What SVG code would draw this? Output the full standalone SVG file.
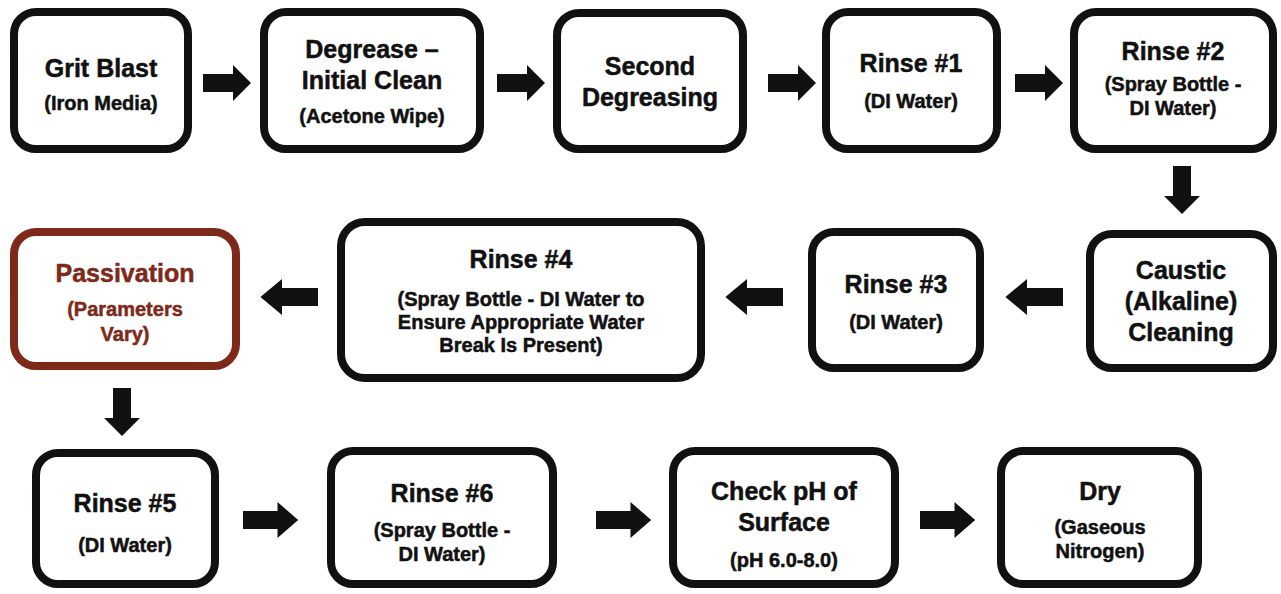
<svg xmlns="http://www.w3.org/2000/svg" width="1281" height="594" viewBox="0 0 1281 594">
<style>
.box{fill:#fff;stroke:#111;stroke-width:8}
.pbox{fill:#fff;stroke:#7e2a1b;stroke-width:8}
.t{font-family:"Liberation Sans",Arial,sans-serif;font-weight:bold;font-size:25px;fill:#111;stroke:#111;stroke-width:0.5;text-anchor:middle}
.s{font-family:"Liberation Sans",Arial,sans-serif;font-weight:bold;font-size:20px;fill:#111;stroke:#111;stroke-width:0.5;text-anchor:middle}
.brown{fill:#7e2a1b;stroke:#7e2a1b}
.arr{fill:#111}
</style>
<defs>
<path id="ar" d="M0,-9 L30,-9 L30,-18 L48,0 L30,18 L30,9 L0,9 Z"/>
</defs>
<rect width="1281" height="594" fill="#fff"/>
<g id="connectors" class="arr">
<use href="#ar" transform="translate(203,83)"/>
<use href="#ar" transform="translate(497,83)"/>
<use href="#ar" transform="translate(768,83)"/>
<use href="#ar" transform="translate(1015,83)"/>
<use href="#ar" transform="translate(1182,166) rotate(90)"/>
<use href="#ar" transform="translate(1063,297) rotate(180) scale(1.2,1)"/>
<use href="#ar" transform="translate(783,297) rotate(180) scale(1.2,1)"/>
<use href="#ar" transform="translate(318,297) rotate(180) scale(1.2,1)"/>
<use href="#ar" transform="translate(122,388) rotate(90)"/>
<use href="#ar" transform="translate(243,520) scale(1.15,1)"/>
<use href="#ar" transform="translate(596,520) scale(1.15,1)"/>
<use href="#ar" transform="translate(920,520) scale(1.15,1)"/>
</g>
<g id="n1"><rect class="box" x="14" y="12" width="174" height="137" rx="22"/>
<text class="t" x="101" y="77">Grit Blast</text><text class="s" x="101" y="110">(Iron Media)</text></g>
<g id="n2"><rect class="box" x="264" y="12" width="216" height="137" rx="22"/>
<text class="t" x="372" y="58">Degrease –</text><text class="t" x="372" y="89">Initial Clean</text><text class="s" x="372" y="123">(Acetone Wipe)</text></g>
<g id="n3"><rect class="box" x="557" y="13" width="186" height="136" rx="22"/>
<text class="t" x="650" y="75">Second</text><text class="t" x="650" y="106">Degreasing</text></g>
<g id="n4"><rect class="box" x="826" y="12" width="171" height="137" rx="22"/>
<text class="t" x="911" y="72">Rinse #1</text><text class="s" x="911" y="108">(DI Water)</text></g>
<g id="n5"><rect class="box" x="1074" y="12" width="199" height="137" rx="22"/>
<text class="t" x="1173" y="60">Rinse #2</text><text class="s" x="1173" y="91">(Spray Bottle -</text><text class="s" x="1173" y="115">DI Water)</text></g>
<g id="n6"><rect class="box" x="1090" y="234" width="183" height="134" rx="22"/>
<text class="t" x="1181" y="279">Caustic</text><text class="t" x="1181" y="310">(Alkaline)</text><text class="t" x="1181" y="341">Cleaning</text></g>
<g id="n7"><rect class="box" x="812" y="232" width="168" height="136" rx="22"/>
<text class="t" x="896" y="293">Rinse #3</text><text class="s" x="896" y="329">(DI Water)</text></g>
<g id="n8"><rect class="box" x="341" y="222" width="360" height="156" rx="24"/>
<text class="t" x="521" y="268">Rinse #4</text><text class="s" x="521" y="306">(Spray Bottle - DI Water to</text><text class="s" x="521" y="329">Ensure Appropriate Water</text><text class="s" x="521" y="352">Break Is Present)</text></g>
<g id="n9"><rect class="pbox" x="14" y="232" width="222" height="134" rx="22"/>
<text class="t brown" x="125" y="282">Passivation</text><text class="s brown" x="125" y="316">(Parameters</text><text class="s brown" x="125" y="341">Vary)</text></g>
<g id="n10"><rect class="box" x="36" y="453" width="179" height="131" rx="22"/>
<text class="t" x="125" y="512">Rinse #5</text><text class="s" x="125" y="552">(DI Water)</text></g>
<g id="n11"><rect class="box" x="331" y="451" width="222" height="133" rx="22"/>
<text class="t" x="442" y="502">Rinse #6</text><text class="s" x="442" y="537">(Spray Bottle -</text><text class="s" x="442" y="561">DI Water)</text></g>
<g id="n12"><rect class="box" x="673" y="451" width="222" height="133" rx="22"/>
<text class="t" x="784" y="500">Check pH of</text><text class="t" x="784" y="531">Surface</text><text class="s" x="784" y="567">(pH 6.0-8.0)</text></g>
<g id="n13"><rect class="box" x="1001" y="451" width="197" height="133" rx="22"/>
<text class="t" x="1100" y="500">Dry</text><text class="s" x="1100" y="534">(Gaseous</text><text class="s" x="1100" y="558">Nitrogen)</text></g>
</svg>
